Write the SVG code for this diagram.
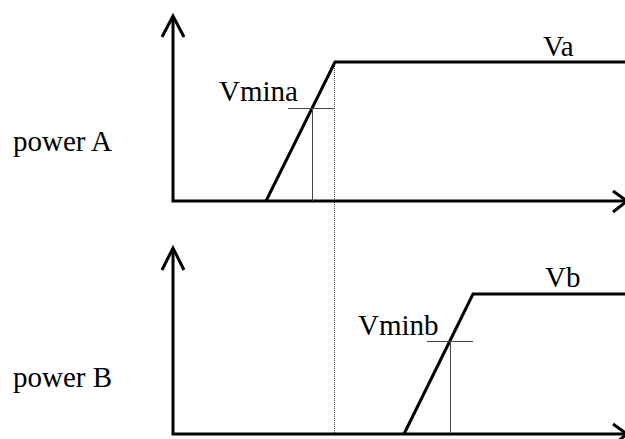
<svg xmlns="http://www.w3.org/2000/svg" width="625" height="439" viewBox="0 0 625 439">
<style>
.thick{fill:none;stroke:#000;stroke-width:3;stroke-linejoin:miter}
.thin{fill:none;stroke:#444;stroke-width:1}
.dot{fill:none;stroke:#444;stroke-width:1;stroke-dasharray:1 1}
text{font-family:"Liberation Serif","Times New Roman",serif;font-size:29px;fill:#000}
</style>
<rect width="625" height="439" fill="#fff"/>
<g id="connectors">
<line class="dot" x1="334.5" y1="62" x2="334.5" y2="433"/>
</g>
<g id="graphA">
<polyline class="thick" points="173,16 173,201 628,201"/>
<polyline class="thick" points="162,37 173,16 184,37"/>
<polyline class="thick" points="613,191 627,201 613,212"/>
<polyline class="thick" points="266,201 335,62 625,62"/>
<line class="thin" x1="288" y1="108.5" x2="335" y2="108.5"/>
<line class="thin" x1="312.5" y1="108" x2="312.5" y2="201"/>
<text x="219" y="101">Vmina</text>
<text x="543" y="56">Va</text>
<text x="13" y="151">power A</text>
</g>
<g id="graphB">
<polyline class="thick" points="173,248 173,434 628,434"/>
<polyline class="thick" points="162,270 173,248 184,270"/>
<polyline class="thick" points="613,424 627,434 613,445"/>
<polyline class="thick" points="404,434 473,294 625,294"/>
<line class="thin" x1="427" y1="341.5" x2="473" y2="341.5"/>
<line class="thin" x1="450.5" y1="341" x2="450.5" y2="434"/>
<text x="358" y="335">Vminb</text>
<text x="545" y="287">Vb</text>
<text x="13" y="387">power B</text>
</g>
</svg>
